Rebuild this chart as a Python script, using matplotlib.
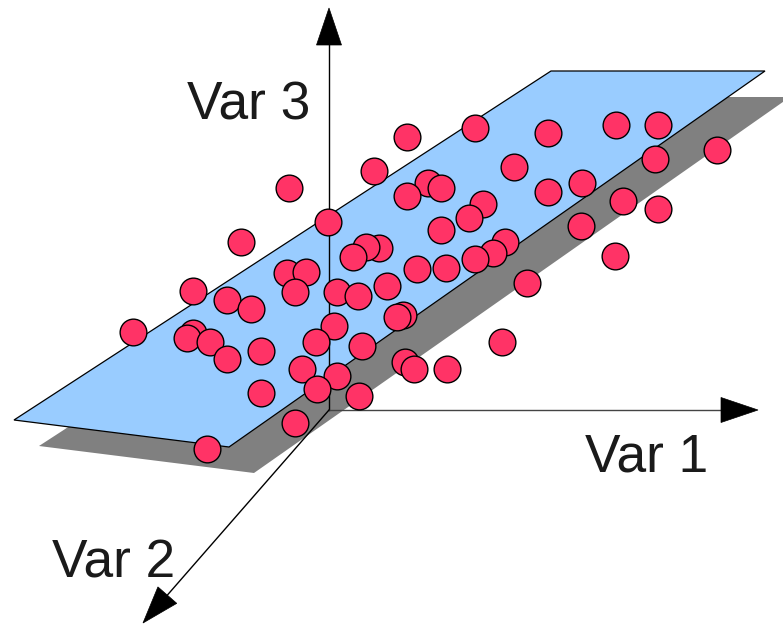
import numpy as np
import matplotlib
matplotlib.use("Agg")
import matplotlib.pyplot as plt
from matplotlib.patches import Polygon

# plane corners (pixel coords: left, bottom, top-right, top-left)
plane_x = [14, 229, 765, 551]
plane_y = [420, 447, 71, 71]
shadow_dx, shadow_dy = 25, 26

# axes: origin and arrow tips
origin = (329, 410)
axis_tips = [(329, 8), (758, 410), (143, 623)]
axis_colors = ["black", "#444444", "black"]
axis_labels = ["Var 3", "Var 1", "Var 2"]
label_pos = [(187, 120), (585, 471), (52, 577)]

# data points (pixel coords)
pts_x = [407, 475, 548, 616, 658, 717, 655, 374, 289, 428, 441, 407, 514,
         548, 582, 623, 658, 328, 483, 469, 441, 581, 241, 379, 366, 353,
         505, 493, 475, 446, 417, 615, 287, 306, 193, 227, 295, 337, 358,
         387, 527, 251, 133, 193, 187, 210, 403, 397, 334, 316, 261, 362,
         227, 502, 302, 405, 414, 447, 337, 317, 261, 359, 295, 207]
pts_y = [137, 128, 133, 125, 125, 150, 159, 171, 188, 183, 188, 196, 167,
         192, 183, 201, 209, 222, 204, 218, 230, 226, 242, 248, 247, 257,
         242, 253, 259, 268, 269, 256, 273, 272, 291, 300, 292, 292, 296,
         286, 283, 309, 332, 333, 338, 342, 315, 317, 326, 342, 351, 346,
         359, 342, 369, 362, 369, 369, 376, 389, 393, 396, 423, 449]

fig = plt.figure(figsize=(7.83, 6.24), dpi=100)
ax = fig.add_axes([0, 0, 1, 1])
ax.set_xlim(0, 783)
ax.set_ylim(624, 0)
ax.axis("off")

shadow = Polygon(np.column_stack([np.array(plane_x) + shadow_dx,
                                  np.array(plane_y) + shadow_dy]),
                 closed=True, facecolor="#808080", edgecolor="none", zorder=1)
ax.add_patch(shadow)
plane = Polygon(np.column_stack([plane_x, plane_y]), closed=True,
                facecolor="#99ccff", edgecolor="black", lw=0.9, zorder=2)
ax.add_patch(plane)

head_len, head_half = 37, 12.5
for tip, col in zip(axis_tips, axis_colors):
    o = np.array(origin, float)
    t = np.array(tip, float)
    u = (t - o) / np.linalg.norm(t - o)
    n = np.array([-u[1], u[0]])
    base = t - head_len * u
    ax.plot([o[0], base[0]], [o[1], base[1]], color=col, lw=1.0, zorder=3)
    head = Polygon([t, base + head_half * n, base - head_half * n],
                   closed=True, facecolor="black", edgecolor="black",
                   lw=0.5, zorder=3)
    ax.add_patch(head)

ax.scatter(pts_x, pts_y, s=370, c="#ff3366", edgecolors="black",
           linewidths=1.0, zorder=4)

for lab, (lx, ly) in zip(axis_labels, label_pos):
    ax.text(lx, ly, lab, fontsize=38.3, family="Liberation Sans",
            color="#1a1a1a", ha="left", va="baseline", zorder=5)

fig.savefig("out.png", dpi=100)
